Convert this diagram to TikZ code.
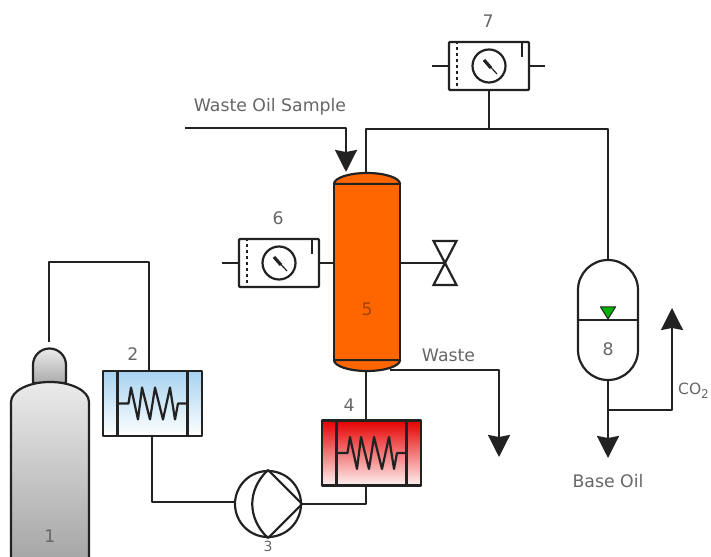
\documentclass[tikz,border=0pt]{standalone}
\usepackage{fontspec}
\setmainfont{DejaVu Sans}
\usetikzlibrary{arrows.meta}
\definecolor{pipecol}{HTML}{222222}
\definecolor{labelcol}{HTML}{666666}
\definecolor{colfill}{HTML}{FF6600}
\definecolor{coldtop}{HTML}{A6D2F0}
\begin{document}
\begin{tikzpicture}[x=1pt,y=1pt,join=round,
    pipe/.style={draw=pipecol,line width=2.2pt},
    flow/.style={pipe,-{Stealth[length=22pt,width=22pt,inset=2pt]}},
    lab/.style={text=labelcol,inner sep=0pt,font=\fontsize{17.3}{19}\selectfont},
    heater/.style={pipe,rectangle,inner sep=0pt,minimum width=99pt,minimum height=65pt},
    gauge/.style={pipe,rectangle,rounded corners=1pt,inner sep=0pt,minimum width=80pt,minimum height=48pt}]
        \useasboundingbox (0,0) rectangle (711,556);
        \clip (0,0) rectangle (711,556);
        % gas bottle
        \draw[pipe,top color=black!8,bottom color=black!33] (33,173)--(33,191) arc[start angle=180,end angle=0,radius=16.5]--(66,173)--cycle;
        \draw[pipe,top color=black!8,bottom color=black!35] (11,-4)--(11,154) arc[start angle=180,end angle=0,x radius=39,y radius=20]--(89,-4)--cycle;
        \coordinate (bottletop) at (49,214);
        % heaters
        \node[heater,top color=coldtop,bottom color=white] (heat2) at (152.5,152.5) {};
        \node[heater,top color=red!90!black,bottom color=red!5] (heat4) at (371.5,103) {};
        \foreach \h in {heat2,heat4}{
            \draw[pipe] (\h.north)+(-35,0)--+(-35,-65);
            \draw[pipe] (\h.north)+(35,0)--+(35,-65);
            \draw[pipe] (\h.center)+(-35,0)--+(-24,0)--+(-21.5,16)--+(-14.5,-16)--+(-10.5,16)--+(-2.5,-16)--+(2.5,16)--+(10.5,-16)--+(17.5,16)--+(22.5,-16)--+(25.5,0)--+(35,0);
        }
        % pump
        \node[pipe,circle,inner sep=0pt,minimum size=66pt] (pump) at (268,52) {};
        \draw[pipe] (pump.north)--(pump.east)--(pump.south);
        \draw[pipe] (pump.north) .. controls +(-21,-20) and +(-21,20) .. (pump.south);
        % column
        \draw[pipe,fill=colfill] (334,372) arc[start angle=180,end angle=0,x radius=33,y radius=11]--cycle;
        \draw[pipe,fill=colfill] (334,196) arc[start angle=180,end angle=360,x radius=33,y radius=11]--cycle;
        \node[pipe,fill=colfill,rectangle,inner sep=0pt,minimum width=66pt,minimum height=176pt] (col) at (367,284) {};
        \coordinate (coltop) at (366,383);
        \coordinate (colbot) at (366,185);
        \coordinate (colout) at (390,186);
        % gauges
        \node[gauge] (gauge6) at (279,293) {};
        \node[gauge] (gauge7) at (489,490) {};
        \foreach \g in {gauge6,gauge7}{
            \draw[pipe] (\g.center) circle (16.5pt);
            \draw[pipe,line width=1.2pt] (\g.center)+(-5,6)--+(8,-8);
            \draw[pipe,line width=3.2pt] (\g.center)+(-5,6)--+(2,-2);
            \draw[pipe] (\g.north east)+(-8,0)--+(-8,-16);
            \draw[pipe,dash pattern=on 3pt off 3pt] (\g.north west)+(9,0)--+(9,-48);
            \draw[pipe] (\g.west)--+(-16,0);
            \draw[pipe] (\g.east)--+(15,0);
        }
        % valve
        \coordinate (valve) at (445,293);
        \draw[pipe,line join=miter] (433.5,315)--(456.5,315)--(433.5,271)--(456.5,271)--cycle;
        % tank
        \node[pipe,rectangle,rounded corners=30pt,inner sep=0pt,minimum width=60pt,minimum height=120pt] (tank) at (608,236) {};
        \draw[pipe] (tank.west)--(tank.east);
        \draw[draw=pipecol,fill=green!70!black,line width=1pt] (600.5,249)--(615.5,249)--(608,237)--cycle;
        % bends of the pipes
        \coordinate (b1) at (49,294);
        \coordinate (b2) at (149,294);
        \coordinate (in2) at (149,185);
        \coordinate (b3) at (152,54);
        \coordinate (out2) at (152,120);
        \coordinate (b4) at (366,52);
        \coordinate (out4) at (366,70.5);
        \coordinate (in4) at (366,135.5);
        \coordinate (feed) at (185,428);
        \coordinate (b5) at (346,428);
        \coordinate (feedend) at (346,384);
        \coordinate (b6) at (366,427);
        \coordinate (b7) at (608,427);
        \coordinate (b8) at (499,186);
        \coordinate (wasteend) at (499,99);
        \coordinate (oilend) at (608,98);
        \coordinate (b9) at (608,146);
        \coordinate (b10) at (672,146);
        \coordinate (gasend) at (672,248);
        % pipes
        \draw[pipe] (bottletop)--(b1)--(b2)--(in2);
        \draw[pipe] (out2)--(b3)--(pump.west |- b3);
        \draw[pipe] (pump.east)--(b4)--(out4);
        \draw[pipe] (in4)--(colbot);
        \draw[flow] (feed)--(b5)--(feedend);
        \draw[pipe] (coltop)--(b6)--(b7)--(tank.north);
        \draw[pipe] (gauge7.south)--(gauge7.south |- b7);
        \draw[pipe] (gauge6.east)--(gauge6.east -| col.west);
        \draw[pipe] (valve -| col.east)--(valve);
        \draw[flow] (colout)--(b8)--(wasteend);
        \draw[flow] (tank.south)--(oilend);
        \draw[flow] (b9)--(b10)--(gasend);
        % labels
        \node[lab] (lab1) at (50,20) {1};
        \node[lab] (lab2) at (133,202) {2};
        \node[lab,font=\fontsize{14}{16}\selectfont] (lab3) at (268,9.5) {3};
        \node[lab] (lab4) at (349,151) {4};
        \node[lab,text=colfill!65!black] (lab5) at (367,247) {5};
        \node[lab] (lab6) at (278,338) {6};
        \node[lab] (lab7) at (488,535) {7};
        \node[lab] (lab8) at (608,207) {8};
        \node[lab] (sample) at (270,449) {Waste Oil Sample};
        \node[lab] (waste) at (448.5,201) {Waste};
        \node[lab] (baseoil) at (608,75) {Base Oil};
        \node[lab,anchor=west,font=\fontsize{15.5}{18}\selectfont] (co2) at (678,165) {CO\raisebox{-4pt}{\fontsize{12}{12}\selectfont 2}};
\end{tikzpicture}
\end{document}
